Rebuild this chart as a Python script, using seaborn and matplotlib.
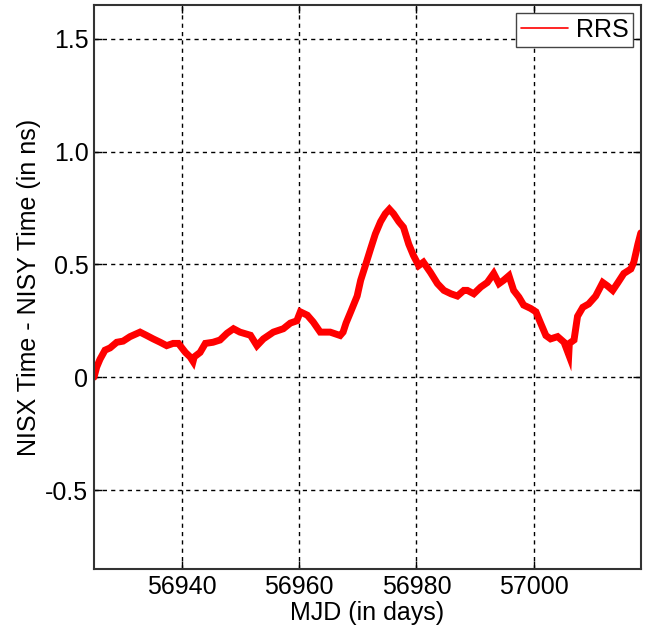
import matplotlib
matplotlib.use("Agg")
import matplotlib.pyplot as plt
from matplotlib.lines import Line2D
import seaborn as sns
import pandas as pd

mjd = [56925.0, 56925.46, 56926.03, 56926.88, 56927.74, 56928.88, 56929.96, 56931.15,
       56932.86, 56934.0, 56935.1, 56936.3, 56937.4, 56938.5, 56939.4, 56940.6,
       56941.4, 56941.9, 56942.1, 56943.1, 56944.0, 56945.3, 56946.5, 56947.7, 56948.8,
       56949.9, 56951.7, 56952.8, 56953.9, 56955.6, 56957.3, 56958.5, 56959.6,
       56960.2, 56961.4, 56962.4, 56963.6, 56965.3, 56967.0, 56967.5, 56968.0,
       56968.8, 56969.9, 56970.5, 56971.3, 56972.2, 56973.0, 56973.9, 56974.7,
       56975.4, 56976.1, 56977.0, 56977.8, 56978.7, 56979.5, 56980.4, 56981.2,
       56982.4, 56983.6, 56984.7, 56985.9, 56987.0, 56988.1, 56988.7, 56989.8,
       56991.0, 56992.1, 56993.2, 56994.1, 56994.9, 56995.8, 56996.6, 56997.5,
       56998.3, 56999.5, 57000.4, 57001.2, 57002.1, 57002.9, 57004.1, 57005.2,
       57006.0, 57006.1, 57006.9, 57007.5, 57008.4, 57009.4, 57010.6, 57011.8, 57012.6,
       57013.5, 57014.4, 57015.4, 57016.6, 57017.1, 57017.8, 57018.3]
rrs = [0.00, 0.045, 0.08, 0.12, 0.13, 0.155, 0.16, 0.18,
       0.20, 0.185, 0.17, 0.155, 0.14, 0.15, 0.15, 0.11,
       0.09, 0.07, 0.09, 0.11, 0.15, 0.155, 0.165, 0.195, 0.215,
       0.20, 0.186, 0.14, 0.17, 0.20, 0.215, 0.24, 0.25,
       0.29, 0.275, 0.245, 0.20, 0.20, 0.185, 0.20, 0.24,
       0.29, 0.36, 0.43, 0.495, 0.57, 0.635, 0.69, 0.725,
       0.745, 0.725, 0.69, 0.665, 0.59, 0.54, 0.495, 0.51,
       0.465, 0.415, 0.385, 0.37, 0.36, 0.385, 0.385, 0.37,
       0.40, 0.42, 0.46, 0.415, 0.43, 0.45, 0.385, 0.355,
       0.32, 0.305, 0.29, 0.24, 0.185, 0.17, 0.18, 0.155,
       0.10, 0.15, 0.165, 0.27, 0.31, 0.325, 0.36, 0.42, 0.405,
       0.385, 0.42, 0.46, 0.48, 0.51, 0.59, 0.64]

x_ticks = [56940, 56960, 56980, 57000]
y_ticks = [-0.5, 0.0, 0.5, 1.0, 1.5]
y_tick_labels = ["-0.5", "0", "0.5", "1.0", "1.5"]

df = pd.DataFrame({"MJD": mjd, "RRS": rrs})

sns.set_style("ticks")
plt.rcParams["font.family"] = ["Liberation Sans", "DejaVu Sans"]

fig = plt.figure(figsize=(6.46, 6.31), dpi=100)
ax = fig.add_axes([0.1455, 0.0983, 0.8465, 0.8937])

sns.lineplot(data=df, x="MJD", y="RRS", ax=ax, color="#ff0000", linewidth=5.0,
             solid_joinstyle="miter", legend=False)

ax.set_xlim(56925, 57018.3)
ax.set_ylim(-0.85, 1.65)
ax.set_xticks(x_ticks)
ax.set_xticklabels([str(t) for t in x_ticks])
ax.set_yticks(y_ticks)
ax.set_yticklabels(y_tick_labels)
ax.grid(True, color="black", linestyle=(0, (3, 3)), linewidth=1.0)
ax.tick_params(direction="in", length=6, width=1, top=True, right=True,
               labelsize=18, colors="black", pad=4)
for s in ax.spines.values():
    s.set_color("#333333")
    s.set_linewidth(1.5)

ax.set_xlabel("MJD (in days)", fontsize=18, labelpad=2, color="black")
ax.set_ylabel("NISX Time - NISY Time (in ns)", fontsize=18, labelpad=3, color="black")

handle = Line2D([], [], color="#ff0000", linewidth=1.2)
leg = ax.legend([handle], ["RRS"], loc="upper right", fontsize=18, frameon=True,
                fancybox=False, edgecolor="#444444", framealpha=1,
                borderpad=0.2, handlelength=1.9, handletextpad=0.3,
                borderaxespad=0.3)
leg.get_frame().set_linewidth(1.0)
for t in leg.get_texts():
    t.set_color("black")

fig.savefig("out.png", dpi=100)
